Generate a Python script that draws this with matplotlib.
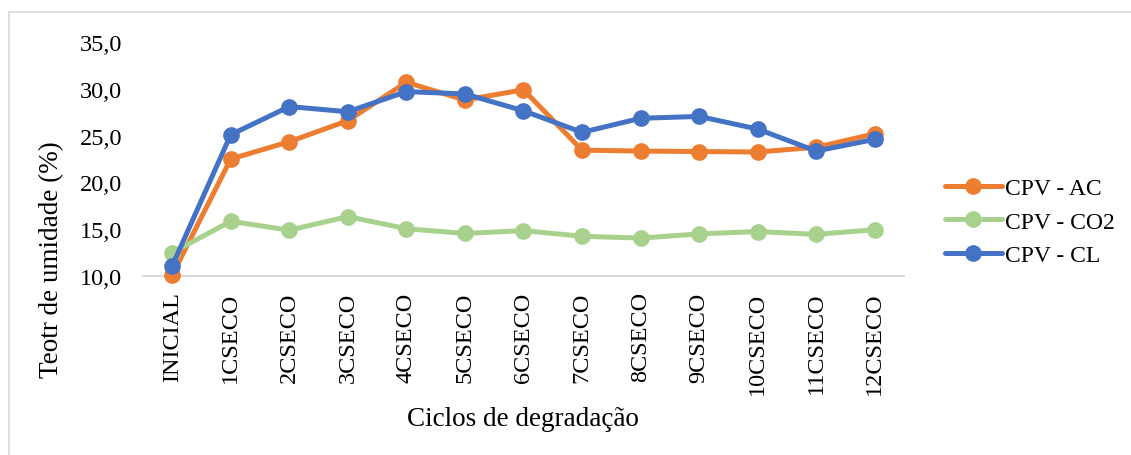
import matplotlib.pyplot as plt
from matplotlib.patches import Rectangle

# ciclos de degradação
ciclos = ["INICIAL", "1CSECO", "2CSECO", "3CSECO", "4CSECO", "5CSECO", "6CSECO",
          "7CSECO", "8CSECO", "9CSECO", "10CSECO", "11CSECO", "12CSECO"]

# teor de umidade (%) por série
cpv_ac = [10.1, 22.5, 24.35, 26.6, 30.7, 28.8, 29.9, 23.45, 23.35, 23.3, 23.25, 23.75, 25.2]
cpv_co2 = [12.5, 15.85, 14.9, 16.35, 15.05, 14.55, 14.85, 14.25, 14.05, 14.5, 14.75, 14.45, 14.95]
cpv_cl = [11.1, 25.1, 28.1, 27.55, 29.7, 29.45, 27.65, 25.35, 26.85, 27.05, 25.7, 23.35, 24.6]

yticks = [10, 15, 20, 25, 30, 35]

plt.rcParams['font.family'] = ['Liberation Serif', 'DejaVu Serif']

fig = plt.figure(figsize=(11.31, 4.56), dpi=100)
ax = fig.add_axes([0.1264, 0.3925, 0.6729, 0.5132])

# moldura cinza da área do gráfico
fig.patches.append(Rectangle((9 / 1131, -0.1), 1.2, 1 - 13 / 456 + 0.1,
                             transform=fig.transFigure, fill=False,
                             edgecolor="#D9D9D9", linewidth=1.2))

x = range(len(ciclos))
series = [("CPV - AC", cpv_ac, "#ED7D31"),
          ("CPV - CO2", cpv_co2, "#A9D18E"),
          ("CPV - CL", cpv_cl, "#4472C4")]
for nome, vals, cor in series:
    ax.plot(x, vals, color=cor, linewidth=3.6, marker="o", markersize=11,
            label=nome, solid_capstyle="round")

ax.set_xlim(-0.5, len(ciclos) - 0.5)
ax.set_ylim(10, 35)
ax.set_yticks(yticks)
ax.set_yticklabels([f"{v:.1f}".replace(".", ",") for v in yticks], fontsize=17.5)
ax.set_xticks(list(x))
ax.set_xticklabels(ciclos, rotation=90, fontsize=17.5)
ax.tick_params(length=0)
ax.tick_params(axis="x", pad=11)
ax.tick_params(axis="y", pad=15)

for s in ["top", "right", "left"]:
    ax.spines[s].set_visible(False)
ax.spines["bottom"].set_color("#D9D9D9")
ax.spines["bottom"].set_linewidth(1.5)
ax.spines["bottom"].set_zorder(0)
for ln in ax.lines:
    ln.set_clip_on(False)

fig.text(52 / 1131, 1 - 260 / 456, "Teotr de umidade (%)", rotation=90,
         fontsize=19.5, ha="center", va="center")
fig.text(523 / 1131, 1 - 420 / 456, "Ciclos de degradação",
         fontsize=19.5, ha="center", va="center")

ax.legend(loc="center left", bbox_to_anchor=(945 / 1131, 1 - 223 / 456),
          bbox_transform=fig.transFigure, frameon=False, fontsize=17,
          handlelength=2.4, handletextpad=0.15, labelspacing=0.5,
          borderpad=0, borderaxespad=0)

fig.savefig("out.png", dpi=100)
